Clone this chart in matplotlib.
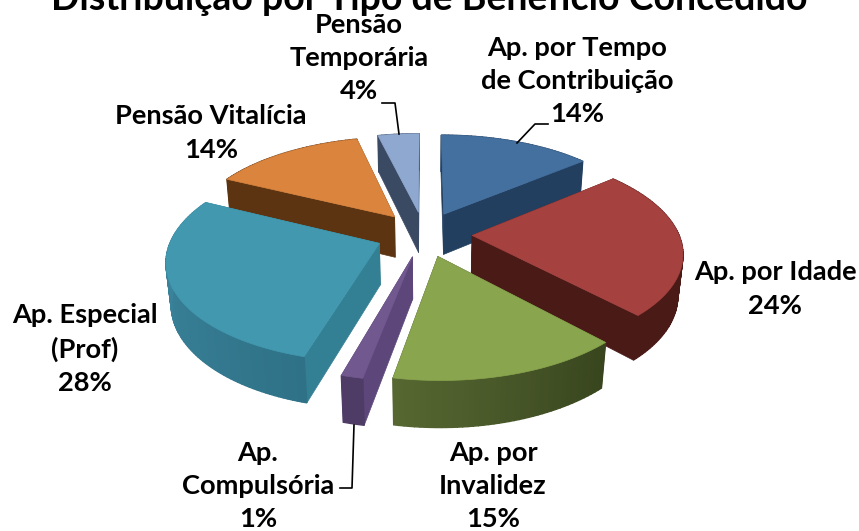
import numpy as np
import matplotlib
matplotlib.use("Agg")
import matplotlib.pyplot as plt
from matplotlib.patches import Polygon

plt.rcParams['font.family'] = ['Lato', 'DejaVu Sans']

TITLE = "Distribuição por Tipo de Benefício Concedido"
labels = ["Ap. por Tempo\nde Contribuição", "Ap. por Idade", "Ap. por\nInvalidez", "Ap.\nCompulsória",
          "Ap. Especial\n(Prof)", "Pensão Vitalícia", "Pensão\nTemporária"]
values = [14.0, 24.0, 15.0, 1.4, 27.8, 14.0, 3.8]

top_colors = ["#44709F", "#A5413F", "#89A54E", "#71588F", "#4198AF", "#DB843D", "#8FA8CF"]
cut_colors = ["#223F5F", "#4A1A17", "#3A4820", "#5D477A", "#337F93", "#5C3411", "#3B4A63"]
wall_start = ["#223F5F", "#4A1A17", "#38451E", "#4E3B66", "#2F7287", "#5C3411", "#3B4A63"]
wall_end = ["#223F5F", "#4A1A17", "#566731", "#4E3B66", "#3F8BA3", "#5C3411", "#3B4A63"]

label_pos = [(577, 81), (775, 289), (493, 486), (258, 486), (85, 349), (211, 133), (359, 58)]

# leader lines in pixels
leaders = [([517, 535, 548], [143, 124, 124]),
           ([382, 395, 399], [103, 103, 134]),
           ([340, 352, 354], [488, 488, 425])]

# geometry of the fake 3d pie
X0, Y0 = 424, 234
A, B = 206.5, 97
K = 0.155
EXPLODE = 0.233
DEPTH = 42


def project(x, y, z=0.0):
    w = 1 + K * y + 0.02 * z
    return X0 + A * x / w, Y0 - B * y / w + DEPTH * z / w


fig = plt.figure(figsize=(8.59, 5.31), dpi=100)
ax = fig.add_axes([0, 0, 1, 1])
ax.set_xlim(0, 859)
ax.set_ylim(531, 0)
ax.axis("off")

total = sum(values)
edges = np.cumsum([0] + values) / total * 2 * np.pi
mids = (edges[:-1] + edges[1:]) / 2

# back to front
order = np.argsort(-np.cos(mids))
for i in order:
    ox = EXPLODE * np.sin(mids[i])
    oy = EXPLODE * np.cos(mids[i])
    th = np.linspace(edges[i], edges[i + 1], max(int(values[i] * 3), 4))
    rx = ox + np.sin(th)
    ry = oy + np.cos(th)
    top = [project(ox, oy)] + [project(a, b) for a, b in zip(rx, ry)]
    bot = [project(ox, oy, 1)] + [project(a, b, 1) for a, b in zip(rx, ry)]

    # cut faces
    for j in (1, len(top) - 1):
        ax.add_patch(Polygon([top[0], top[j], bot[j], bot[0]], fc=cut_colors[i], ec=cut_colors[i], lw=0.5))

    # outer wall with a small shade change along the arc
    c0 = np.array(matplotlib.colors.to_rgb(wall_start[i]))
    c1 = np.array(matplotlib.colors.to_rgb(wall_end[i]))
    for j in range(1, len(top) - 1):
        f = (j - 1) / max(len(top) - 3, 1)
        col = c0 + (c1 - c0) * f
        ax.add_patch(Polygon([top[j], top[j + 1], bot[j + 1], bot[j]], fc=col, ec=col, lw=1))

    ax.add_patch(Polygon(top, fc=top_colors[i], ec=top_colors[i], lw=0.5))

for lx, ly in leaders:
    ax.plot(lx, ly, color="black", lw=1.2)

ax.text(429, 9.5, TITLE, ha="center", va="baseline", fontweight="bold", fontsize=27, color="black")
for name, val, p in zip(labels, values, label_pos):
    ax.text(p[0], p[1], f"{name}\n{round(val)}%", ha="center", va="center", fontweight="bold",
            fontsize=19.6, color="black", linespacing=1.47)

fig.savefig("out.png", dpi=100)
